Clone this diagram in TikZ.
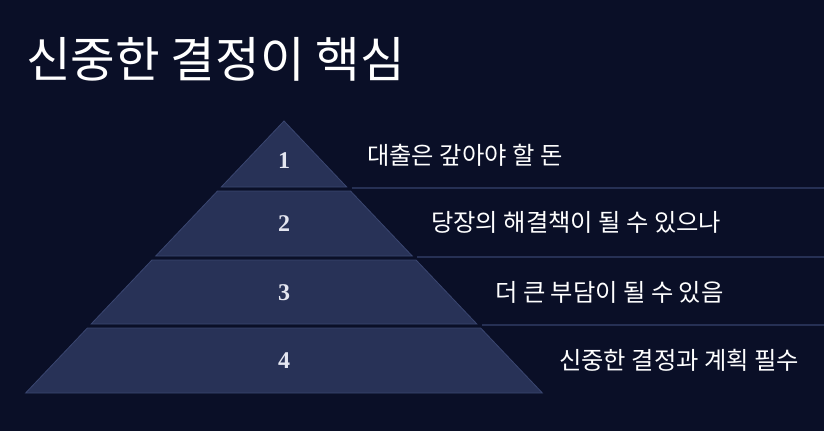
\documentclass[tikz,border=0pt]{standalone}
\usepackage{fontspec}
\setmainfont{Liberation Serif}
\newfontfamily\krfont{Noto Sans CJK KR}
\usetikzlibrary{positioning,calc}
\definecolor{bgnavy}{RGB}{10,15,39}
\definecolor{tierfill}{RGB}{40,50,87}
\definecolor{tieredge}{RGB}{58,70,112}
\definecolor{sepline}{RGB}{38,48,84}
\definecolor{numgray}{RGB}{228,230,240}

\begin{document}
\begin{tikzpicture}[x=1pt,y=-1pt,
 tier/.style={fill=tierfill,draw=tieredge,line width=0.8pt},
 num/.style={font=\fontsize{24}{27}\selectfont\bfseries,text=numgray},
 lbl/.style={font=\krfont\fontsize{24.3}{28}\selectfont,text=white,anchor=west,inner sep=0pt},
 sep/.style={draw=sepline,line width=1.6pt}]
\fill[bgnavy] (0,0) rectangle (824,431);
\useasboundingbox (0,0) rectangle (824,431);
\coordinate (edge) at (824,0);
\node[font=\krfont\fontsize{48.5}{54}\selectfont,text=white,anchor=west,inner sep=0pt] (title) at (26,59) {신중한 결정이 핵심};
% pyramid tiers, apex at (284,121)
\foreach \i/\tp/\bt/\ny in {1/121/187/161,2/191/256/224,3/260/324/293,4/328/393/361}{
 \path[tier] ({284-0.95*(\tp-121)},\tp) -- ({284+0.95*(\tp-121)},\tp)
  -- ({284+0.95*(\bt-121)},\bt) -- ({284-0.95*(\bt-121)},\bt) -- cycle;
 \node[num] (n\i) at (284,\ny) {\i};
 \coordinate (r\i) at ({284+0.95*(\bt-121)+5},{\bt+1});
}
\node[lbl] (t1) at (367,155) {대출은 갚아야 할 돈};
\node[lbl] (t2) at (431,222) {당장의 해결책이 될 수 있으나};
\node[lbl] (t3) at (495,292) {더 큰 부담이 될 수 있음};
\node[lbl] (t4) at (559,360) {신중한 결정과 계획 필수};
\foreach \i in {1,2,3}{\draw[sep] (r\i) -- (r\i -| edge);}
\end{tikzpicture}
\end{document}
